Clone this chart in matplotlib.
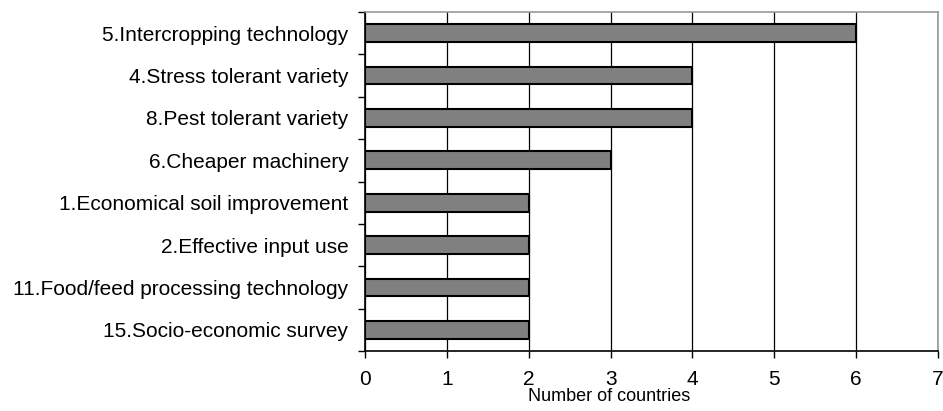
import matplotlib.pyplot as plt
import numpy as np

plt.rcParams['font.family'] = ['Liberation Sans', 'DejaVu Sans']

categories = [
    "5.Intercropping technology",
    "4.Stress tolerant variety",
    "8.Pest tolerant variety",
    "6.Cheaper machinery",
    "1.Economical soil improvement",
    "2.Effective input use",
    "11.Food/feed processing technology",
    "15.Socio-economic survey",
]
counts = [6, 4, 4, 3, 2, 2, 2, 2]
x_ticks = [0, 1, 2, 3, 4, 5, 6, 7]

fig = plt.figure(figsize=(9.43, 4.11), dpi=100)
ax = fig.add_axes([365 / 943, 1 - 351 / 411, (938 - 365) / 943, (351 - 12) / 411])

y = np.arange(len(categories))
ax.barh(y, counts, height=0.42, color="#808080", edgecolor="black", linewidth=1.5, zorder=3)

ax.set_xlim(0, 7)
ax.set_ylim(len(categories) - 0.5, -0.5)
ax.set_xticks(x_ticks)
ax.set_yticks(y)
ax.set_yticklabels(categories)
ax.set_yticks(np.arange(-0.5, len(categories)), minor=True)
ax.tick_params(axis="y", which="major", length=0, pad=12, labelsize=15)
ax.tick_params(axis="y", which="minor", length=5, width=1, direction="out")
ax.tick_params(axis="x", length=5, width=1, direction="out", labelsize=15, pad=9)

ax.grid(axis="x", color="black", linewidth=0.9, zorder=0)
for side in ("top", "right"):
    ax.spines[side].set_color("#999999")
    ax.spines[side].set_linewidth(1.2)
for side in ("left", "bottom"):
    ax.spines[side].set_color("black")
    ax.spines[side].set_linewidth(1.2)

ax.set_xlabel("Number of countries", fontsize=13)
ax.xaxis.set_label_coords((609 - 365) / (938 - 365), -0.11)
ax.xaxis.label.set_verticalalignment("top")

fig.savefig("out.png", dpi=100)
